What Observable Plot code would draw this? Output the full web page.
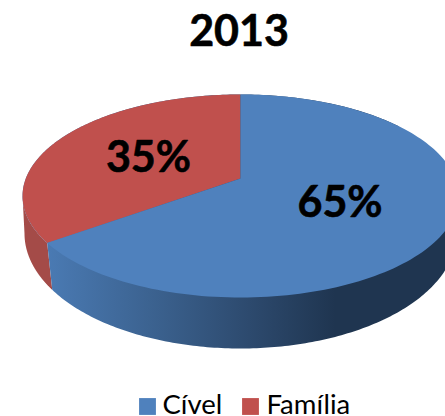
<!DOCTYPE html>
<html>
<head>
<meta charset="utf-8">
<script src="https://cdn.jsdelivr.net/npm/d3@7"></script>
<script src="https://cdn.jsdelivr.net/npm/@observablehq/plot@0.6"></script>
<style>html,body{margin:0;padding:0;background:#fff;overflow:hidden}svg{display:block}</style>
</head>
<body>
<div id="chart"></div>
<script>
const title = "2013";
const categories = ["Família", "Cível"];
const shares = [35, 65];
const legendOrder = ["Cível", "Família"];
const colours = {"Cível": "#4f81bd", "Família": "#c0504d"};

// perspective projection of the unit disc (pie) onto the page
const apex = {x: 240, y: 178}, a = 214.7, b = 98.5, k = 0.1724;
const project = (phi, r = 1) => {
  const u = r * Math.sin(phi), v = -r * Math.cos(phi), d = 1 - k * v;
  return {x: apex.x + a * u / d, y: apex.y + b * v / d};
};
// the lower rim of the drum
const rim = {cx: 240, cy: 233, rx: 216, ry: 115};
const rimAt = t => ({x: rim.cx + rim.rx * Math.sin(t), y: rim.cy - rim.ry * Math.cos(t)});

const total = d3.sum(shares);
const famEnd = -2 * Math.PI * shares[0] / total;        // anticlockwise from the top
const samples = (from, to, n = 160) => d3.range(n + 1).map(i => from + (to - from) * i / n);

const famTop = [apex, ...samples(0, famEnd).map(p => project(p))];
const civTop = [apex, ...samples(0, 2 * Math.PI + famEnd).map(p => project(p))];

const boundary = project(famEnd);
const tBoundary = -Math.PI + Math.asin((240 - (boundary.x + 5)) / rim.rx);
const phiLeft = -Math.PI / 2 - 0.17;
const famSide = [
  ...samples(phiLeft, famEnd).map(p => project(p)),
  ...samples(tBoundary, -Math.PI / 2).map(rimAt)
];
const civSide = [
  ...samples(famEnd, famEnd + Math.PI).map(p => project(p)),
  ...samples(Math.PI / 2, 2 * Math.PI + tBoundary).map(rimAt)
];

const labels = categories.map((c, i) => {
  const start = i === 0 ? famEnd : 0;
  const end = i === 0 ? 0 : 2 * Math.PI + famEnd;
  return {text: shares[i] + "%", ...project((start + end) / 2, 0.5)};
});

const gradient = () => {
  const svgNS = "http://www.w3.org/2000/svg";
  const defs = document.createElementNS(svgNS, "defs");
  const g = document.createElementNS(svgNS, "linearGradient");
  g.setAttribute("id", "sideBlue");
  g.setAttribute("gradientUnits", "userSpaceOnUse");
  g.setAttribute("x1", 47); g.setAttribute("x2", 335);
  g.setAttribute("y1", 0); g.setAttribute("y2", 0);
  [[0, "#4a7ab3"], [0.35, "#3c6391"], [0.7, "#2d4a6e"], [1, "#1f3550"]].forEach(([o, c]) => {
    const s = document.createElementNS(svgNS, "stop");
    s.setAttribute("offset", o); s.setAttribute("stop-color", c);
    g.appendChild(s);
  });
  defs.appendChild(g);
  return defs;
};

const fontFamily = "Lato, Carlito, Calibri, sans-serif";
const poly = (pts, fill) => Plot.line(pts, {x: "x", y: "y", fill, stroke: "none", curve: "linear"});

const legendY = 405;
const legendRows = legendOrder.map((name, i) => ({
  name, swatch: [147, 250][i], labelX: [162, 266][i]
}));

const chart = Plot.plot({
  width: 445, height: 416,
  margin: 0,
  x: {domain: [0, 445], range: [0, 445], axis: null},
  y: {domain: [0, 416], range: [0, 416], axis: null},
  style: {background: "#fff", fontFamily},
  marks: [
    gradient,
    poly(famSide, "#a44b48"),
    poly(civSide, "url(#sideBlue)"),
    poly(famTop, colours["Família"]),
    poly(civTop, colours["Cível"]),
    Plot.text(labels, {x: "x", y: "y", dy: 1, text: "text", fontSize: 43, fontWeight: 700, fill: "#000", stroke: "#000", strokeWidth: 0.6, fontFamily}),
    Plot.text([title], {x: () => 238.5, y: () => 32, text: d => d, fontSize: 43, fontWeight: 700, fill: "#000", stroke: "#000", strokeWidth: 0.6, fontFamily}),
    Plot.dot(legendRows, {x: "swatch", y: () => 406, r: 9.5, symbol: "square", fill: d => colours[d.name], stroke: "none"}),
    Plot.text(legendRows, {x: "labelX", y: () => legendY, text: "name", textAnchor: "start", fontSize: 27.5, fill: "#000", fontFamily})
  ]
});
document.getElementById("chart").appendChild(chart);
</script>
</body>
</html>
